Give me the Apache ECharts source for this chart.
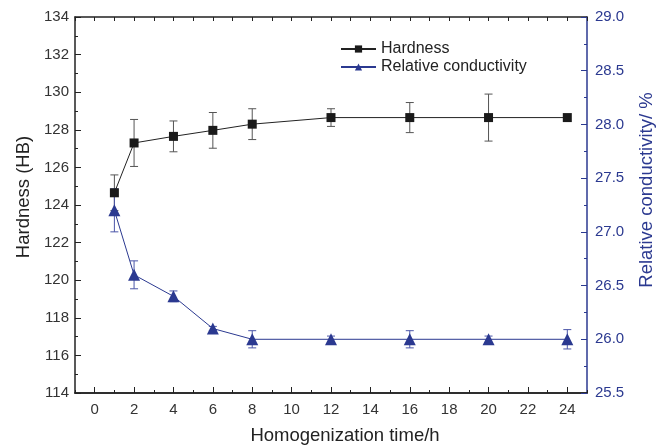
<!DOCTYPE html>
<html>
<head>
<meta charset="utf-8">
<script src="https://cdn.jsdelivr.net/npm/echarts@6/dist/echarts.min.js"></script>
<style>html,body{margin:0;padding:0;background:#fff}#c{width:665px;height:445px}</style>
</head>
<body>
<div id="c"></div>
<script>
const times = [1, 2, 4, 6, 8, 12, 16, 20, 24];
const hardness = [124.65, 127.3, 127.65, 127.97, 128.3, 128.65, 128.65, 128.65, 128.65];
const hardnessErr = [0.95, 1.25, 0.82, 0.95, 0.82, 0.47, 0.8, 1.25, 0];
const conductivity = [27.2, 26.6, 26.4, 26.1, 26.0, 26.0, 26.0, 26.0, 26.0];
const conductivityErr = [0.2, 0.13, 0.05, 0.02, 0.08, 0.03, 0.08, 0.03, 0.09];
const xMajorTicks = [0, 2, 4, 6, 8, 10, 12, 14, 16, 18, 20, 22, 24];
const xMinorTicks = [-1, 1, 3, 5, 7, 9, 11, 13, 15, 17, 19, 21, 23, 25];

const BLUE = '#2B3990';
const FONT = 'Liberation Sans, Arial, sans-serif';

const chart = echarts.init(document.getElementById('c'));

function errBar(color) {
  return function (params, api) {
    const x = api.value(0), lo = api.value(1), hi = api.value(2);
    if (hi - lo <= 0) return null;
    const p1 = api.coord([x, hi]);
    const p2 = api.coord([x, lo]);
    const w = 4;
    const st = { stroke: color, lineWidth: 1 };
    return {
      type: 'group',
      children: [
        { type: 'line', shape: { x1: p1[0], y1: p1[1], x2: p2[0], y2: p2[1] }, style: st },
        { type: 'line', shape: { x1: p1[0] - w, y1: p1[1], x2: p1[0] + w, y2: p1[1] }, style: st },
        { type: 'line', shape: { x1: p2[0] - w, y1: p2[1], x2: p2[0] + w, y2: p2[1] }, style: st }
      ]
    };
  };
}

const hardData = times.map((t, i) => [t, hardness[i]]);
const condData = times.map((t, i) => [t, conductivity[i]]);
const hardErrData = times.map((t, i) => [t, hardness[i] - hardnessErr[i], hardness[i] + hardnessErr[i]]);
const condErrData = times.map((t, i) => [t, conductivity[i] - conductivityErr[i], conductivity[i] + conductivityErr[i]]);

const baseX = {
  type: 'value', min: -1, max: 25,
  splitLine: { show: false },
  axisLine: { onZero: false, lineStyle: { color: '#222', width: 1.5 } }
};

chart.setOption({
  animation: false,
  textStyle: { fontFamily: FONT },
  grid: { left: 75, right: 78, top: 17, bottom: 52, containLabel: false, outerBoundsMode: 'none' },
  legend: {
    left: 335, top: 36, orient: 'vertical',
    itemWidth: 35, itemHeight: 9, itemGap: 2,
    textStyle: { fontSize: 16, lineHeight: 16, color: '#222', fontFamily: FONT },
    data: ['Hardness', 'Relative conductivity']
  },
  xAxis: [
    Object.assign({}, baseX, {
      position: 'bottom',
      name: 'Homogenization time/h', nameLocation: 'middle', nameGap: 33,
      nameTextStyle: { fontSize: 18.5, color: '#222', fontFamily: FONT, padding: [0, 0, 0, 28] },
      axisTick: { inside: true, length: 6, customValues: xMajorTicks, lineStyle: { color: '#222' } },
      axisLabel: { customValues: xMajorTicks, fontSize: 15, color: '#333', margin: 9, fontFamily: FONT }
    }),
    Object.assign({}, baseX, {
      position: 'bottom',
      axisTick: { inside: true, length: 3, customValues: xMinorTicks, lineStyle: { color: '#222' } },
      axisLabel: { show: false }
    }),
    Object.assign({}, baseX, {
      position: 'top',
      axisTick: { inside: true, length: 4, customValues: xMajorTicks.concat(xMinorTicks), lineStyle: { color: '#222' } },
      axisLabel: { show: false }
    })
  ],
  yAxis: [
    {
      type: 'value', min: 114, max: 134, interval: 2, position: 'left',
      name: 'Hardness (HB)', nameLocation: 'middle', nameGap: 41,
      nameTextStyle: { fontSize: 18.5, color: '#222', fontFamily: FONT, padding: [0, 0, 0, 16] },
      splitLine: { show: false },
      axisLine: { show: true, onZero: false, lineStyle: { color: '#222', width: 1.5 } },
      axisTick: { inside: true, length: 6, lineStyle: { color: '#222' } },
      minorTick: { show: true, splitNumber: 2, length: 3, lineStyle: { color: '#222' } },
      axisLabel: { fontSize: 15, color: '#333', margin: 6, fontFamily: FONT }
    },
    {
      type: 'value', min: 25.5, max: 29.0, interval: 0.5, position: 'right',
      name: 'Relative conductivity/ %', nameLocation: 'middle', nameGap: 50, nameRotate: 90,
      nameTextStyle: { fontSize: 18.5, color: BLUE, fontFamily: FONT, padding: [0, 0, 0, 30] },
      splitLine: { show: false },
      axisLine: { show: true, onZero: false, lineStyle: { color: BLUE, width: 1.5 } },
      axisTick: { inside: true, length: 6, lineStyle: { color: BLUE } },
      minorTick: { show: true, splitNumber: 2, length: 3, lineStyle: { color: BLUE } },
      axisLabel: { fontSize: 15, color: BLUE, margin: 8, fontFamily: FONT,
        formatter: v => v.toFixed(1) }
    }
  ],
  series: [
    {
      type: 'custom', name: 'hardErr', xAxisIndex: 0, yAxisIndex: 0,
      renderItem: errBar('#555'), data: hardErrData, z: 1, silent: true
    },
    {
      type: 'custom', name: 'condErr', xAxisIndex: 0, yAxisIndex: 1,
      renderItem: errBar('#4A55A8'), data: condErrData, z: 1, silent: true
    },
    {
      type: 'line', name: 'Hardness', xAxisIndex: 0, yAxisIndex: 0,
      data: hardData, symbol: 'rect', symbolSize: 9,
      lineStyle: { color: '#222', width: 1 },
      itemStyle: { color: '#1a1a1a' }, z: 3
    },
    {
      type: 'line', name: 'Relative conductivity', xAxisIndex: 0, yAxisIndex: 1,
      data: condData, symbol: 'triangle', symbolSize: 12,
      lineStyle: { color: BLUE, width: 1 },
      itemStyle: { color: BLUE }, z: 3
    }
  ]
});
</script>
</body>
</html>
